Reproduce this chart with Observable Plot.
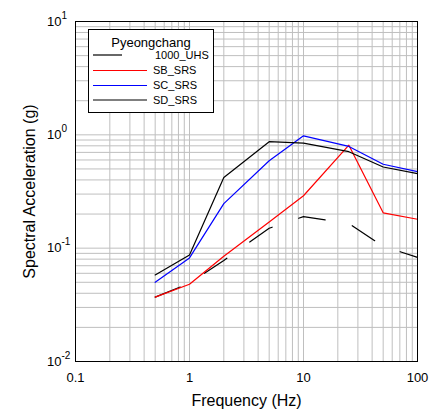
<!DOCTYPE html>
<html>
<head>
<meta charset="utf-8">
<script src="https://cdn.jsdelivr.net/npm/d3@7"></script>
<script src="https://cdn.jsdelivr.net/npm/@observablehq/plot@0.6"></script>
<style>
  body { margin: 0; background: #fff; }
  #wrap { position: relative; width: 440px; height: 414px; font-family: "Liberation Sans", Arial, sans-serif; }
  #legend { position: absolute; left: 88px; top: 29px; }
</style>
</head>
<body>
<div id="wrap"></div>
<script>
// ---- data ----
const freq = [0.5, 1, 2, 5, 10, 25, 50, 100];
const uhs1000 = [0.037, 0.049, 0.078, 0.15, 0.19, 0.165, 0.104, 0.083];
const sbSRS   = [0.037, 0.048, 0.085, 0.17, 0.29, 0.81, 0.205, 0.18];
const scSRS   = [0.050, 0.082, 0.247, 0.59, 0.98, 0.79, 0.55, 0.473];
const sdSRS   = [0.058, 0.087, 0.42, 0.87, 0.845, 0.71, 0.52, 0.455];
const seriesNames = ["1000_UHS", "SB_SRS", "SC_SRS", "SD_SRS"];
const seriesValues = [uhs1000, sbSRS, scSRS, sdSRS];
const seriesColors = ["#000000", "#ff0000", "#0000ff", "#000000"];
const seriesDash = ["27,28", null, null, null];
const legendTitle = "Pyeongchang";
const xTickValues = [0.1, 1, 10, 100];
const xTickLabels = ["0.1", "1", "10", "100"];
const yTickValues = [0.01, 0.1, 1, 10];
const yTickExps = ["-2", "-1", "0", "1"];
const xLabel = "Frequency (Hz)";
const yLabel = "Spectral Acceleration (g)";

const xDomain = [0.1, 100];
const yDomain = [0.01, 10];

const seriesData = seriesNames.map((name, i) =>
  freq.map((f, j) => ({series: name, f, v: seriesValues[i][j]})));

const xGrid = d3.scaleLog().domain(xDomain).ticks();
const yGrid = d3.scaleLog().domain(yDomain).ticks();

const xTicks = xTickValues.map((v, i) => ({v, label: xTickLabels[i]}));
const yTicks = yTickValues.map((v, i) => ({v, exp: yTickExps[i]}));

const gridColor = "#bfbfbf";
const font = "Liberation Sans, Arial, sans-serif";

const plot = Plot.plot({
  width: 440,
  height: 414,
  marginLeft: 75,
  marginRight: 23,
  marginTop: 21,
  marginBottom: 53,
  style: {fontFamily: font, background: "#fff", color: "#000"},
  x: {type: "log", domain: xDomain, axis: null},
  y: {type: "log", domain: yDomain, axis: null},
  marks: [
    Plot.ruleX(xGrid, {x: d => d, stroke: gridColor, strokeWidth: 1}),
    Plot.ruleY(yGrid, {y: d => d, stroke: gridColor, strokeWidth: 1}),
    ...seriesData.map((d, i) => Plot.line(d, {
      x: "f", y: "v",
      stroke: seriesColors[i],
      strokeWidth: 1.2,
      strokeDasharray: seriesDash[i] ?? undefined
    })),
    Plot.frame({stroke: "#000", strokeWidth: 1}),
    // x tick labels
    Plot.text(xTicks, {x: "v", frameAnchor: "bottom", dy: 16, lineAnchor: "middle", textAnchor: "middle", text: "label", fontSize: 13, fill: "#000"}),
    // y tick labels: base and exponent
    Plot.text(yTicks, {y: "v", frameAnchor: "left", dx: -14, dy: 0, lineAnchor: "middle", text: () => "10", textAnchor: "end", fontSize: 13, fill: "#000"}),
    Plot.text(yTicks, {y: "v", frameAnchor: "left", dx: -14, dy: -6, lineAnchor: "middle", text: "exp", textAnchor: "start", fontSize: 10, fill: "#000"}),
    // axis labels
    Plot.text([xLabel], {frameAnchor: "bottom", dy: 39, lineAnchor: "middle", textAnchor: "middle", text: d => d, fontSize: 16, fill: "#000"}),
    Plot.text([yLabel], {frameAnchor: "left", dx: -46, rotate: -90, lineAnchor: "middle", textAnchor: "middle", text: d => d, fontSize: 16, fill: "#000"})
  ]
});

const wrap = document.getElementById("wrap");
wrap.appendChild(plot);

// ---- legend (HTML overlay) ----
const ns = "http://www.w3.org/2000/svg";
const lg = document.createElementNS(ns, "svg");
lg.setAttribute("id", "legend");
lg.setAttribute("width", 126);
lg.setAttribute("height", 84);
lg.style.fontFamily = font;
const rect = document.createElementNS(ns, "rect");
rect.setAttribute("x", 0.5); rect.setAttribute("y", 0.5);
rect.setAttribute("width", 125); rect.setAttribute("height", 83);
rect.setAttribute("fill", "#fff"); rect.setAttribute("stroke", "#000");
lg.appendChild(rect);
const title = document.createElementNS(ns, "text");
title.setAttribute("x", 63); title.setAttribute("y", 18);
title.setAttribute("text-anchor", "middle");
title.setAttribute("font-size", 13);
title.textContent = legendTitle;
lg.appendChild(title);
const rowY = [26, 41.5, 56.5, 71];
seriesNames.forEach((name, i) => {
  const ln = document.createElementNS(ns, "line");
  ln.setAttribute("x1", 5);
  ln.setAttribute("x2", i === 0 ? 34 : 59);
  ln.setAttribute("y1", rowY[i]); ln.setAttribute("y2", rowY[i]);
  ln.setAttribute("stroke", seriesColors[i]);
  ln.setAttribute("stroke-width", 1.2);
  lg.appendChild(ln);
  const t = document.createElementNS(ns, "text");
  t.setAttribute("x", i === 0 ? 67 : 65);
  t.setAttribute("y", rowY[i] + 1);
  t.setAttribute("dominant-baseline", "middle");
  t.setAttribute("font-size", 11);
  t.textContent = name;
  lg.appendChild(t);
});
wrap.appendChild(lg);
</script>
</body>
</html>
